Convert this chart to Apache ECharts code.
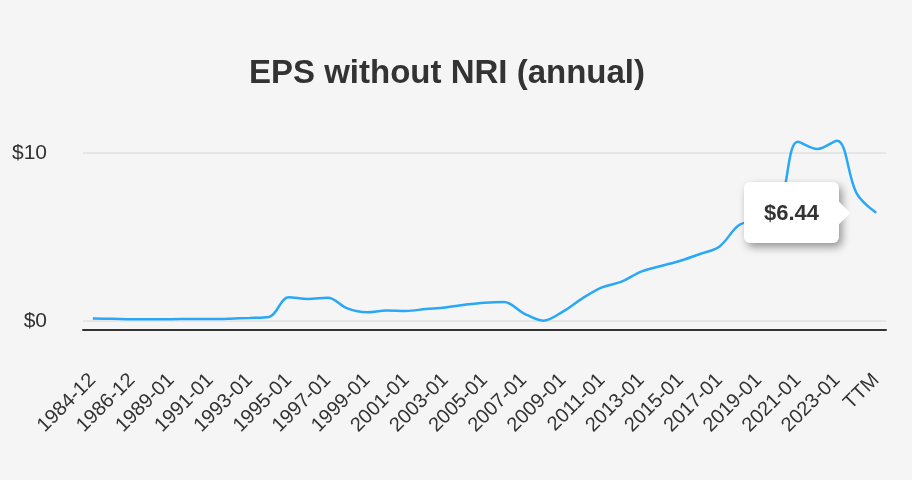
<!DOCTYPE html>
<html>
<head>
<meta charset="utf-8">
<script src="https://cdn.jsdelivr.net/npm/echarts@6/dist/echarts.min.js"></script>
<style>
html,body{margin:0;padding:0;background:#f5f5f5;}
#chart{width:912px;height:480px;}
.eps-tip > div { width:16px !important; height:16px !important; right:-8px !important; }
</style>
</head>
<body>
<div id="chart"></div>
<script>
var categories = ['1984-12','1985-12','1986-12','1987-12','1989-01','1990-01','1991-01','1992-01','1993-01','1994-01',
  '1995-01','1996-01','1997-01','1998-01','1999-01','2000-01','2001-01','2002-01','2003-01','2004-01',
  '2005-01','2006-01','2007-01','2008-01','2009-01','2010-01','2011-01','2012-01','2013-01','2014-01',
  '2015-01','2016-01','2017-01','2018-01','2019-01','2020-01','2021-01','2022-01','2023-01','2024-01','TTM'];
var eps = [0.15,0.13,0.10,0.10,0.11,0.12,0.12,0.14,0.18,0.24,
  1.41,1.31,1.39,0.75,0.52,0.62,0.60,0.71,0.81,0.97,
  1.09,1.13,0.46,0.02,0.56,1.35,2.00,2.34,2.94,3.27,
  3.59,3.99,4.44,5.71,6.05,6.60,10.67,10.24,10.73,7.60,6.44];
var yTicks = [0, 10];

var chart = echarts.init(document.getElementById('chart'));
chart.setOption({
  backgroundColor: '#f5f5f5',
  animation: false,
  title: {
    text: 'EPS without NRI (annual)',
    left: 244,
    top: 52,
    textStyle: { fontFamily: 'Liberation Sans, Arial, sans-serif', fontSize: 33, fontWeight: 'bold', color: '#333' }
  },
  grid: { left: 83, right: 26, top: 153, bottom: 159, containLabel: false },
  tooltip: {
    trigger: 'item',
    position: 'left',
    className: 'eps-tip',
    alwaysShowContent: true,
    transitionDuration: 0,
    backgroundColor: '#ffffff',
    borderWidth: 0,
    padding: [14, 20],
    textStyle: { fontFamily: 'Liberation Sans, Arial, sans-serif', fontSize: 22, fontWeight: 'bold', color: '#333' },
    extraCssText: 'box-shadow: 3px 4px 8px rgba(0,0,0,0.4); border-radius: 6px;',
    formatter: function (p) { return '$' + p.value.toFixed(2); }
  },
  xAxis: {
    type: 'category',
    data: categories,
    boundaryGap: true,
    offset: 9,
    axisLine: { onZero: false, lineStyle: { color: '#333', width: 2 } },
    axisTick: { show: false },
    axisLabel: {
      interval: 1,
      rotate: 45,
      margin: 47,
      fontFamily: 'Liberation Sans, Arial, sans-serif',
      fontSize: 20,
      color: '#333'
    },
    splitLine: { show: false }
  },
  yAxis: {
    type: 'value',
    min: yTicks[0],
    max: yTicks[1],
    interval: 10,
    axisLine: { show: false },
    axisTick: { show: false },
    axisLabel: {
      margin: 36,
      fontFamily: 'Liberation Sans, Arial, sans-serif',
      fontSize: 21,
      color: '#333',
      formatter: function (v) { return '$' + v; }
    },
    splitLine: { lineStyle: { color: '#e6e6e6', width: 2 } }
  },
  series: [{
    type: 'line',
    data: eps,
    smooth: 0.35,
    clip: false,
    showSymbol: true,
    symbol: 'circle',
    symbolSize: function (v, p) { return p.dataIndex === eps.length - 1 ? 58 : 0; },
    itemStyle: { color: 'rgba(0,0,0,0)', borderWidth: 0 },
    lineStyle: { color: '#2aa8f8', width: 2.5 },
    emphasis: { disabled: true }
  }]
});
chart.dispatchAction({ type: 'showTip', seriesIndex: 0, dataIndex: eps.length - 1 });
</script>
</body>
</html>
